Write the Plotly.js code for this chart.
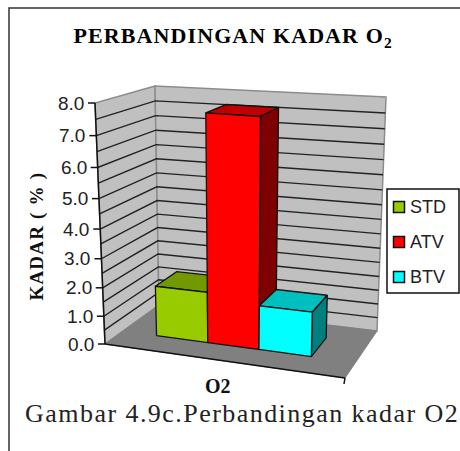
<!DOCTYPE html>
<html>
<head>
<meta charset="utf-8">
<script src="https://cdn.plot.ly/plotly-3.0.1.min.js"></script>
<style>html,body{margin:0;padding:0;background:#fff}#c{width:460px;height:451px}</style>
</head>
<body>
<div id="c"></div>
<script>
const seriesNames = ["STD", "ATV", "BTV"];
const seriesValues = [1.8, 7.7, 1.55];
const faceFront = ["#99CC00", "#FF0000", "#00FFFF"];
const faceTop = ["#739900", "#BF0000", "#00BFBF"];
const faceSide = ["#4D6600", "#7F0000", "#007F7F"];
const tickLabels = ["0.0","1.0","2.0","3.0","4.0","5.0","6.0","7.0","8.0"];
const tickValues = [0,1,2,3,4,5,6,7,8];
const gridValues = [0.5,1,1.5,2,2.5,3,3.5,4,4.5,5,5.5,6,6.5,7,7.5];
const categoryLabel = "O2";

// oblique box of the 3-D chart: corners of the floor and of the plane at the axis maximum
const floorC = {fl:[105,344], fr:[345,378], bl:[159,305], br:[377,331]};
const roofC  = {fl:[95,103],  fr:[353,121], bl:[155,86],  br:[386,97]};
const AXIS_MAX = 8, PERSP = 1.096;
const barEdges = [0.145,0.365,0.585,0.81];
const barFront = 0.33, barBack = 0.74;

function bil(c,u,v){
  return [0,1].map(i => (1-v)*((1-u)*c.fl[i]+u*c.fr[i]) + v*((1-u)*c.bl[i]+u*c.br[i]));
}
function P(u,v,h){
  const t = h/AXIS_MAX, f = t/(t+(1-t)*PERSP);
  const a = bil(floorC,u,v), b = bil(roofC,u,v);
  return [a[0]+(b[0]-a[0])*f, a[1]+(b[1]-a[1])*f];
}
function poly(pts,fill,line,lw){
  const closed = pts.concat([pts[0]]);
  return {type:"scatter",mode:"lines",x:closed.map(p=>p[0]),y:closed.map(p=>p[1]),
    fill:"toself",fillcolor:fill,line:{color:line,width:lw},hoverinfo:"skip",showlegend:false};
}
function lines(segs,color,lw){
  const x=[],y=[];
  segs.forEach(s=>{s.forEach(p=>{x.push(p[0]);y.push(p[1]);});x.push(null);y.push(null);});
  return {type:"scatter",mode:"lines",x,y,line:{color,width:lw},hoverinfo:"skip",showlegend:false};
}

const traces = [];
traces.push(poly([P(0,0,0),P(0,0,8),P(0,1,8),P(0,1,0)],"#C0C0C0","#8C8C8C",1.5));
traces.push(poly([P(0,1,0),P(0,1,8),P(1,1,8),P(1,1,0)],"#C0C0C0","#8C8C8C",1.5));
traces.push(poly([P(0,0,0),P(0,1,0),P(1,1,0),P(1,0,0)],"#808080","#808080",1));
const gridSegs = gridValues.map(h=>[P(0,0,h),P(0,1,h),P(1,1,h)]);
traces.push(lines(gridSegs,"#222222",1.4));
traces.push(lines([[P(0,0,0),P(0,0,8)],[P(0,0,0),P(1,0,0)]],"#111111",1.5));
const tickSegs = tickValues.map(h=>{const p=P(0,0,h);return [[p[0]-7,p[1]],p];});
const end = P(1,0,0);
tickSegs.push([end,[end[0]-1,end[1]+6]]);
traces.push(lines(tickSegs,"#111111",1.5));

seriesValues.forEach((val,i)=>{
  const u0=barEdges[i], u1=barEdges[i+1], a=barFront, b=barBack;
  traces.push(poly([P(u0,a,val),P(u0,b,val),P(u1,b,val),P(u1,a,val)],faceTop[i],"#111111",1.3));
  traces.push(poly([P(u1,a,0),P(u1,a,val),P(u1,b,val),P(u1,b,0)],faceSide[i],"#111111",1.3));
  traces.push(poly([P(u0,a,0),P(u0,a,val),P(u1,a,val),P(u1,a,0)],faceFront[i],"#111111",1.3));
});

const legendY = [207,242,277];
seriesNames.forEach((n,i)=>{
  traces.push({type:"scatter",mode:"markers",x:[399],y:[legendY[i]],
    marker:{symbol:"square",size:11,color:faceFront[i],line:{color:"#111",width:1.5}},
    hoverinfo:"skip",showlegend:false,name:n});
});

const annotations = tickValues.map((h,i)=>{
  const p=P(0,0,h);
  return {x:p[0]-9,y:p[1],text:tickLabels[i],xanchor:"right",yanchor:"middle",showarrow:false,
    font:{family:"Liberation Sans",size:19,color:"#222"}};
});
seriesNames.forEach((n,i)=>annotations.push({x:409,y:legendY[i],text:n,xanchor:"left",yanchor:"middle",
  showarrow:false,xshift:-1,font:{family:"Liberation Sans",size:18,color:"#222"}}));
const serif="Liberation Serif";
annotations.push(
 {x:233,y:37,text:"<b>PERBANDINGAN KADAR O<sub>2</sub></b>",showarrow:false,font:{family:serif,size:22,color:"#000"}},
 {x:37,y:236,text:"<b>KADAR ( % )</b>",textangle:-90,showarrow:false,font:{family:serif,size:19,color:"#111"}},
 {x:218,y:386,text:"<b>"+categoryLabel+"</b>",showarrow:false,font:{family:serif,size:20,color:"#111"}},
 {x:242,y:413,text:"Gambar 4.9c.Perbandingan kadar O2",showarrow:false,font:{family:serif,size:26,color:"#222"}}
);

const layout = {
  width:460,height:451,margin:{l:0,r:0,t:0,b:0},paper_bgcolor:"#fff",plot_bgcolor:"#fff",showlegend:false,
  xaxis:{range:[0,460],visible:false,fixedrange:true},
  yaxis:{range:[451,0],visible:false,fixedrange:true},
  annotations,
  shapes:[
    {type:"path",path:"M460,8 L9,8 L9,451",line:{color:"#333",width:1.5},layer:"below"},
    {type:"rect",x0:387,x1:459,y0:189,y1:293,line:{color:"#111",width:1.5},fillcolor:"#fff",layer:"below"}
  ]
};
const spacing = {"PERBANDINGAN":"1.1px","KADAR ( %":"1.2px","Gambar":"1.45px"};
Plotly.newPlot("c",traces,layout,{displayModeBar:false,staticPlot:true}).then(()=>{
  document.querySelectorAll("#c .annotation-text").forEach(t=>{
    Object.keys(spacing).forEach(k=>{ if(t.textContent.indexOf(k)===0) t.style.letterSpacing=spacing[k]; });
  });
});
</script>
</body>
</html>
